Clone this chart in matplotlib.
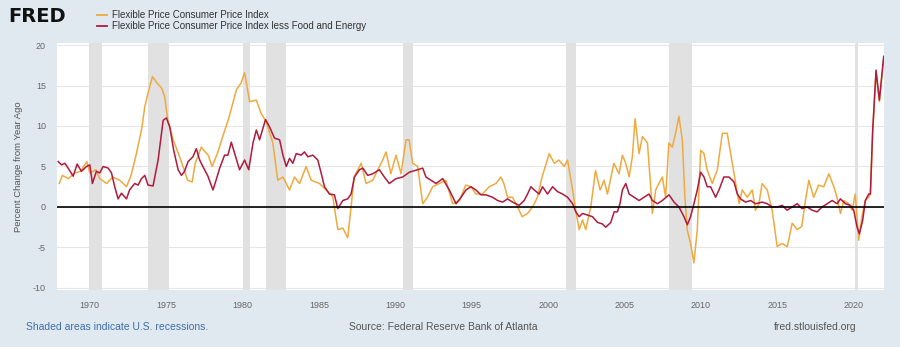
import numpy as np
import matplotlib.pyplot as plt

plt.rcParams['font.family'] = ['Liberation Sans Narrow', 'Liberation Sans', 'DejaVu Sans']
plt.rcParams['axes.unicode_minus'] = False

# Flexible Price CPI, percent change from year ago
flex_years = [1968.0, 1968.2, 1968.6, 1969.0, 1969.4, 1969.8, 1970.0, 1970.4, 1970.65, 1971.1,
              1971.5, 1971.96, 1972.4, 1972.7, 1973.05, 1973.4, 1973.6, 1973.8, 1974.1, 1974.4,
              1974.7, 1974.9, 1975.1, 1975.45, 1975.8, 1976.1, 1976.4, 1976.7, 1976.9, 1977.3,
              1977.55, 1977.75, 1978.0, 1978.35, 1978.7, 1979.1, 1979.6, 1979.9, 1980.13, 1980.46,
              1980.9, 1981.2, 1981.55, 1981.98, 1982.3, 1982.64, 1983.07, 1983.4, 1983.73, 1984.16,
              1984.49, 1985.03, 1985.47, 1985.9, 1986.23, 1986.56, 1986.88, 1987.1, 1987.3, 1987.76,
              1988.08, 1988.52, 1988.85, 1989.17, 1989.39, 1989.7, 1990.04, 1990.37, 1990.7, 1990.9,
              1991.13, 1991.46, 1991.79, 1992.1, 1992.44, 1992.88, 1993.3, 1993.75, 1994.2, 1994.6,
              1994.95, 1995.27, 1995.7, 1996.14, 1996.58, 1996.9, 1997.1, 1997.34, 1997.67, 1998.1,
              1998.3, 1998.65, 1998.98, 1999.3, 1999.6, 2000.07, 2000.4, 2000.7, 2001.05, 2001.27,
              2001.6, 2001.8, 2002.03, 2002.25, 2002.46, 2002.79, 2003.1, 2003.4, 2003.66, 2003.88,
              2004.3, 2004.64, 2004.86, 2005.08, 2005.3, 2005.51, 2005.69, 2005.95, 2006.17, 2006.5,
              2006.71, 2006.82, 2007.04, 2007.25, 2007.47, 2007.69, 2007.9, 2008.13, 2008.34, 2008.56,
              2008.78, 2008.95, 2009.1, 2009.32, 2009.54, 2009.76, 2009.98, 2010.2, 2010.4, 2010.74,
              2011.07, 2011.4, 2011.72, 2012.05, 2012.27, 2012.5, 2012.7, 2013.03, 2013.36, 2013.57,
              2013.8, 2014.0, 2014.34, 2014.66, 2014.99, 2015.3, 2015.65, 2015.97, 2016.3, 2016.6,
              2016.84, 2017.06, 2017.38, 2017.7, 2018.04, 2018.37, 2018.7, 2018.9, 2019.13, 2019.35,
              2019.67, 2019.9, 2020.1, 2020.33, 2020.55, 2020.76, 2020.98, 2021.09, 2021.24, 2021.46,
              2021.68, 2021.96]
flex_vals = [2.9, 3.9, 3.5, 4.2, 4.4, 5.6, 4.2, 4.6, 3.5, 2.9,
             3.7, 3.3, 2.5, 3.9, 6.6, 9.7, 12.4, 14.0, 16.1, 15.3,
             14.7, 13.6, 10.8, 8.3, 6.6, 5.0, 3.3, 3.1, 5.4, 7.4,
             6.8, 6.4, 5.0, 6.6, 8.7, 11.0, 14.5, 15.3, 16.6, 13.0,
             13.2, 11.6, 10.5, 7.9, 3.3, 3.7, 2.1, 3.7, 2.9, 5.0,
             3.3, 2.9, 2.1, 1.3, -2.8, -2.6, -3.8, 0.0, 3.7, 5.4,
             2.9, 3.3, 4.6, 5.8, 6.8, 4.1, 6.4, 4.1, 8.3, 8.3,
             5.4, 5.0, 0.4, 1.2, 2.5, 2.9, 3.3, 0.4, 0.8, 2.7,
             2.5, 1.6, 1.6, 2.5, 2.9, 3.7, 2.9, 1.2, 1.2, -0.4,
             -1.2, -0.8, 0.0, 1.2, 3.7, 6.6, 5.4, 5.8, 5.0, 5.8,
             2.1, -0.4, -2.8, -1.6, -2.8, 0.0, 4.5, 2.1, 3.3, 1.6,
             5.4, 4.1, 6.4, 5.4, 3.7, 6.2, 10.9, 6.6, 8.7, 7.9,
             2.5, -0.8, 2.1, 2.9, 3.7, 1.2, 7.9, 7.4, 9.1, 11.2,
             8.3, 1.2, -2.8, -4.5, -6.9, -2.8, 7.0, 6.6, 4.6, 2.9,
             4.6, 9.1, 9.1, 5.4, 2.9, 0.4, 2.1, 1.2, 2.1, -0.4,
             0.4, 2.9, 2.1, -0.4, -4.9, -4.5, -4.9, -2.0, -2.8, -2.4,
             0.8, 3.3, 1.2, 2.7, 2.5, 4.1, 2.5, 1.2, -0.8, 0.8,
             0.4, -0.4, 1.6, -4.1, -1.0, 0.8, 1.2, 1.6, 9.0, 16.5,
             13.0, 18.2]

# Flexible Price CPI less Food and Energy
core_years = [1967.93, 1968.15, 1968.37, 1968.58, 1968.91, 1969.17, 1969.45, 1969.78, 1970.0, 1970.17,
              1970.43, 1970.65, 1970.87, 1971.2, 1971.42, 1971.63, 1971.85, 1972.07, 1972.4, 1972.6,
              1972.94, 1973.16, 1973.38, 1973.6, 1973.81, 1974.14, 1974.47, 1974.8, 1975.01, 1975.23,
              1975.49, 1975.78, 1976.0, 1976.2, 1976.43, 1976.75, 1976.97, 1977.19, 1977.4, 1977.73,
              1978.06, 1978.28, 1978.5, 1978.82, 1979.04, 1979.26, 1979.48, 1979.8, 1980.13, 1980.4,
              1980.68, 1980.9, 1981.11, 1981.5, 1981.76, 1982.09, 1982.42, 1982.64, 1982.86, 1983.07,
              1983.29, 1983.51, 1983.83, 1984.05, 1984.27, 1984.6, 1984.92, 1985.14, 1985.36, 1985.68,
              1986.01, 1986.23, 1986.56, 1986.88, 1987.1, 1987.32, 1987.65, 1987.87, 1988.19, 1988.52,
              1988.95, 1989.28, 1989.6, 1990.04, 1990.48, 1990.92, 1991.46, 1991.79, 1992.0, 1992.33,
              1992.66, 1993.1, 1993.53, 1993.97, 1994.3, 1994.62, 1994.95, 1995.27, 1995.6, 1995.93,
              1996.36, 1996.69, 1997.02, 1997.34, 1997.67, 1998.1, 1998.43, 1998.65, 1998.87, 1999.09,
              1999.41, 1999.63, 1999.96, 2000.29, 2000.61, 2000.94, 2001.27, 2001.6, 2001.81, 2002.03,
              2002.25, 2002.57, 2002.9, 2003.23, 2003.55, 2003.77, 2004.1, 2004.32, 2004.53, 2004.7,
              2004.86, 2005.08, 2005.3, 2005.62, 2005.95, 2006.27, 2006.6, 2006.82, 2007.15, 2007.47,
              2007.91, 2008.24, 2008.56, 2008.89, 2009.11, 2009.32, 2009.54, 2009.76, 2009.98, 2010.2,
              2010.41, 2010.63, 2010.96, 2011.18, 2011.5, 2011.83, 2012.16, 2012.38, 2012.59, 2012.92,
              2013.25, 2013.57, 2014.01, 2014.34, 2014.66, 2014.99, 2015.32, 2015.64, 2015.97, 2016.3,
              2016.62, 2016.95, 2017.28, 2017.6, 2017.93, 2018.26, 2018.59, 2018.91, 2019.13, 2019.46,
              2019.78, 2020.0, 2020.22, 2020.37, 2020.59, 2020.76, 2020.98, 2021.09, 2021.24, 2021.46,
              2021.68, 2021.96]
core_vals = [5.6, 5.2, 5.4, 4.8, 3.8, 5.3, 4.4, 5.0, 5.2, 2.9,
             4.4, 4.2, 5.0, 4.8, 4.2, 2.5, 1.0, 1.7, 1.0, 2.1,
             2.9, 2.7, 3.5, 3.9, 2.7, 2.6, 5.8, 10.7, 11.0, 9.9,
             7.0, 4.6, 3.9, 4.4, 5.6, 6.2, 7.2, 5.8, 5.0, 3.8,
             2.1, 3.4, 4.8, 6.4, 6.4, 8.0, 6.6, 4.6, 5.8, 4.6,
             7.9, 9.5, 8.3, 10.8, 9.9, 8.5, 8.3, 6.4, 5.0, 6.0,
             5.4, 6.6, 6.4, 6.8, 6.2, 6.4, 5.8, 4.2, 2.5, 1.6,
             1.5, -0.2, 0.8, 1.0, 1.6, 3.7, 4.6, 4.8, 3.9, 4.1,
             4.6, 3.7, 2.9, 3.5, 3.7, 4.3, 4.6, 4.8, 3.7, 3.3,
             2.9, 3.5, 2.1, 0.4, 1.2, 2.1, 2.5, 2.1, 1.5, 1.5,
             1.2, 0.8, 0.6, 1.0, 0.6, 0.2, 0.8, 1.6, 2.5, 2.1,
             1.6, 2.5, 1.6, 2.5, 1.9, 1.6, 1.2, 0.4, -0.6, -1.2,
             -0.8, -1.0, -1.2, -1.9, -2.1, -2.5, -1.9, -0.6, -0.6, 0.4,
             2.1, 2.9, 1.6, 1.2, 0.8, 1.2, 1.6, 0.8, 0.4, 0.8,
             1.5, 0.6, 0.0, -1.2, -2.2, -1.2, 0.4, 2.1, 4.3, 3.7,
             2.5, 2.5, 1.2, 2.1, 3.7, 3.7, 3.1, 1.6, 1.0, 0.6,
             0.8, 0.4, 0.6, 0.4, 0.0, 0.0, 0.2, -0.4, 0.0, 0.4,
             -0.2, 0.0, -0.4, -0.6, 0.0, 0.4, 0.8, 0.4, 1.0, 0.4,
             0.2, -0.4, -2.5, -3.3, -1.6, 0.8, 1.6, 1.6, 9.5, 16.9,
             13.2, 18.6]

# NBER recessions (start, end)
rec_start = [1969.92, 1973.83, 1980.0, 1981.5, 1990.5, 2001.17, 2007.92, 2020.08]
rec_end = [1970.83, 1975.17, 1980.5, 1982.83, 1991.17, 2001.83, 2009.42, 2020.25]

yticks = [-10, -5, 0, 5, 10, 15, 20]
xticks = [1970, 1975, 1980, 1985, 1990, 1995, 2000, 2005, 2010, 2015, 2020]

orange = '#eeaa3f'
red = '#b01a3c'
bg = '#e1e9f0'

fig = plt.figure(figsize=(9, 3.47), dpi=100, facecolor=bg)
ax = fig.add_axes([0.0633, 0.1643, 0.9189, 0.7118])
ax.set_facecolor('white')

for s, e in zip(rec_start, rec_end):
    ax.axvspan(s, e, color='#e1e1e1', lw=0, zorder=1)
for y in yticks:
    ax.axhline(y, color='#e6e6e6', lw=0.8, zorder=0)
ax.axhline(0, color='black', lw=1.2, zorder=4)

ax.plot(flex_years, flex_vals, color=orange, lw=1.1, zorder=2)
ax.plot(core_years, core_vals, color=red, lw=1.1, zorder=3)

ax.set_xlim(1967.85, 2021.98)
ax.set_ylim(-10.25, 20.25)
ax.set_yticks(yticks)
ax.set_xticks(xticks)
ax.tick_params(length=0, labelsize=6.5, labelcolor='#666666', pad=8)
ax.tick_params(axis='y', pad=8)
for sp in ax.spines.values():
    sp.set_visible(False)
ax.set_ylabel('Percent Change from Year Ago', fontsize=6.8, color='#555555', labelpad=7)

# header
fig.text(8 / 900, 1 - 17 / 347, 'FRED', fontsize=14, fontweight='heavy', color='#111111',
         family='DejaVu Sans', va='center', ha='left')
fig.add_artist(plt.Line2D([97 / 900, 107 / 900], [1 - 15 / 347] * 2, color=orange, lw=1.3))
fig.add_artist(plt.Line2D([97 / 900, 107 / 900], [1 - 26 / 347] * 2, color=red, lw=1.3))
fig.text(112 / 900, 1 - 15 / 347, 'Flexible Price Consumer Price Index', fontsize=7,
         color='#333333', va='center')
fig.text(112 / 900, 1 - 26 / 347, 'Flexible Price Consumer Price Index less Food and Energy',
         fontsize=7, color='#333333', va='center')

# footer
fig.text(26 / 900, 1 - 327 / 347, 'Shaded areas indicate U.S. recessions.', fontsize=7.5,
         color='#3d6ea8', va='center')
fig.text(349 / 900, 1 - 327 / 347, 'Source: Federal Reserve Bank of Atlanta', fontsize=7.5,
         color='#555555', va='center')
fig.text(774 / 900, 1 - 327 / 347, 'fred.stlouisfed.org', fontsize=7.5,
         color='#555555', va='center')

fig.savefig('out.png', dpi=100, facecolor=bg)
